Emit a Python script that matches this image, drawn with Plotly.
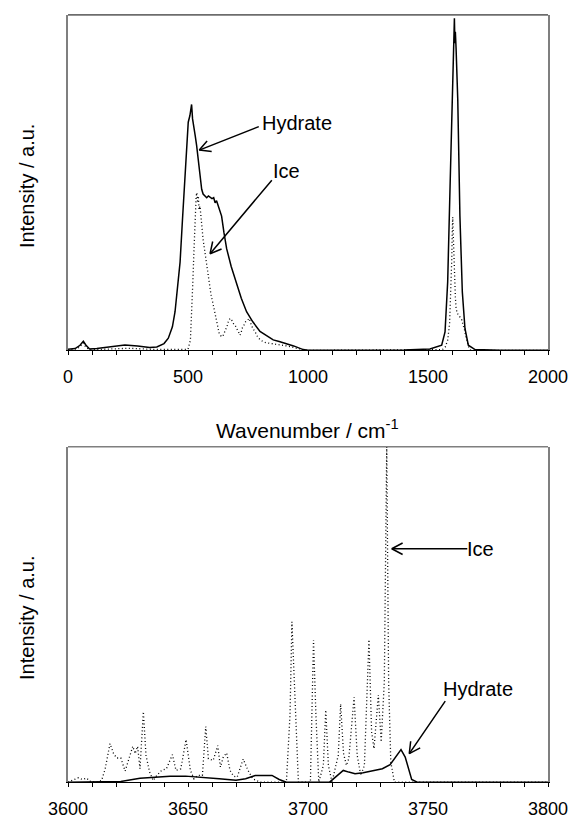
import math
import plotly.graph_objects as go
from plotly.subplots import make_subplots

# ---------------- data: top panel (0-2000 cm-1) ----------------
top_hydrate_x = [0, 30, 50, 64, 75, 90, 120, 170, 237, 290, 340, 370, 400, 418, 435, 446, 457, 467,
                 477, 487, 495, 501, 508, 512, 515, 519, 524, 530, 536, 543, 550, 557, 563, 570, 578,
                 585, 592, 600, 607, 613, 619, 627, 633, 640, 650, 661, 680, 703, 722, 744, 770, 800,
                 830, 855, 880, 911, 940, 980, 1000, 1200, 1400, 1508, 1540, 1557, 1571, 1582, 1592,
                 1603, 1607, 1610, 1612, 1614, 1617, 1624, 1633, 1643, 1654, 1668, 1696, 1800, 2000]
top_hydrate_y = [0.003, 0.005, 0.015, 0.027, 0.015, 0.004, 0.005, 0.010, 0.016, 0.013, 0.008, 0.010,
                 0.020, 0.036, 0.070, 0.115, 0.190, 0.263, 0.390, 0.510, 0.620, 0.680, 0.700, 0.715,
                 0.733, 0.690, 0.660, 0.640, 0.610, 0.560, 0.510, 0.480, 0.466, 0.460, 0.455, 0.460,
                 0.457, 0.452, 0.455, 0.440, 0.446, 0.430, 0.420, 0.400, 0.350, 0.303, 0.250, 0.194,
                 0.155, 0.115, 0.085, 0.056, 0.042, 0.031, 0.026, 0.020, 0.013, 0.002, 0.0, 0.0,
                 0.001, 0.004, 0.010, 0.015, 0.055, 0.204, 0.490, 0.847, 0.960, 0.990, 0.916, 0.950,
                 0.900, 0.748, 0.400, 0.174, 0.065, 0.015, 0.002, 0.0, 0.0]

top_ice_x = [0, 40, 55, 64, 72, 85, 150, 250, 350, 450, 500, 510, 515, 520, 525, 530, 534, 537, 540,
             543, 546, 550, 553, 556, 560, 563, 567, 571, 575, 578, 582, 587, 592, 597, 601, 605, 610,
             614, 619, 625, 630, 635, 640, 647, 654, 662, 668, 675, 682, 689, 696, 705, 712, 717, 722,
             727, 733, 740, 748, 755, 762, 770, 779, 790, 800, 814, 830, 850, 870, 883, 900, 920, 953,
             975, 994, 1100, 1500, 1560, 1572, 1582, 1590, 1595, 1599, 1601, 1603, 1605, 1607, 1609,
             1611, 1614, 1617, 1622, 1628, 1635, 1641, 1646, 1651, 1658, 1664, 1670, 1678, 2000]
top_ice_y = [0.0, 0.005, 0.015, 0.022, 0.012, 0.003, 0.003, 0.006, 0.003, 0.002, 0.003, 0.030, 0.100,
             0.200, 0.300, 0.400, 0.460, 0.470, 0.440, 0.460, 0.420, 0.430, 0.400, 0.370, 0.360, 0.330,
             0.310, 0.290, 0.260, 0.253, 0.230, 0.210, 0.175, 0.160, 0.150, 0.135, 0.120, 0.100, 0.085,
             0.070, 0.050, 0.045, 0.040, 0.045, 0.056, 0.070, 0.085, 0.095, 0.090, 0.080, 0.075, 0.060,
             0.050, 0.045, 0.055, 0.068, 0.075, 0.085, 0.090, 0.095, 0.080, 0.065, 0.056, 0.040, 0.032,
             0.025, 0.022, 0.020, 0.018, 0.016, 0.014, 0.012, 0.006, 0.003, 0.0, 0.0, 0.0, 0.002, 0.010,
             0.030, 0.080, 0.160, 0.270, 0.350, 0.397, 0.350, 0.290, 0.230, 0.200, 0.160, 0.125, 0.110,
             0.105, 0.095, 0.090, 0.075, 0.065, 0.040, 0.025, 0.010, 0.0, 0.0]

# ---------------- data: bottom panel (3600-3800 cm-1) ----------------
bot_hydrate_x = [3600, 3618, 3622, 3630, 3636, 3642.5, 3649, 3656, 3663, 3670, 3674, 3678, 3682, 3685,
                 3688, 3691, 3709, 3712, 3714.7, 3717, 3719.6, 3723, 3727, 3731, 3734.2, 3736.5,
                 3738.75, 3740.5, 3741.5, 3743.2, 3745.5, 3800]
bot_hydrate_y = [0.0, 0.0, 0.002, 0.012, 0.015, 0.018, 0.018, 0.013, 0.010, 0.006, 0.010, 0.020, 0.021,
                 0.020, 0.008, 0.0, 0.0, 0.018, 0.035, 0.030, 0.025, 0.028, 0.033, 0.040, 0.052, 0.075,
                 0.097, 0.075, 0.047, 0.008, 0.0, 0.0]

bot_ice_x = [3600, 3602, 3604.3, 3606, 3607.8, 3609, 3612, 3614, 3615.5, 3617.5, 3619, 3620.3, 3622,
             3623.8, 3625.2, 3627, 3628, 3629, 3630, 3631.4, 3632.5, 3634, 3635.5, 3637, 3639, 3641,
             3643.5, 3645, 3647, 3649.2, 3651, 3652.5, 3654, 3656, 3657.4, 3658.5, 3660.5, 3662.4,
             3663.5, 3664.7, 3666.1, 3667.5, 3669, 3670.5, 3673, 3675, 3677, 3680, 3691, 3692.5,
             3693.3, 3694.5, 3696, 3701, 3701.8, 3702.3, 3703.3, 3704.5, 3706.4, 3707.4, 3708.5, 3710,
             3712.6, 3713.6, 3714.8, 3716, 3717, 3719.2, 3720.5, 3722, 3723.5, 3725.4, 3726.5, 3727.5,
             3729.3, 3730.5, 3731.8, 3732.8, 3733.6, 3734.5, 3736, 3800]
bot_ice_y = [0.0, 0.005, 0.013, 0.008, 0.012, 0.003, 0.0, 0.005, 0.040, 0.115, 0.085, 0.072, 0.072,
             0.033, 0.067, 0.107, 0.085, 0.107, 0.040, 0.210, 0.080, 0.030, 0.005, 0.020, 0.035, 0.040,
             0.082, 0.035, 0.040, 0.127, 0.035, 0.010, 0.020, 0.020, 0.166, 0.070, 0.065, 0.109, 0.045,
             0.075, 0.087, 0.035, 0.018, 0.015, 0.069, 0.035, 0.010, 0.0, 0.0, 0.200, 0.478, 0.250,
             0.0, 0.0, 0.250, 0.424, 0.200, 0.0, 0.050, 0.215, 0.050, 0.0, 0.080, 0.233, 0.086, 0.050,
             0.070, 0.253, 0.080, 0.020, 0.050, 0.425, 0.150, 0.100, 0.260, 0.120, 0.300, 1.0, 0.300,
             0.060, 0.0, 0.0]

# tick labels
top_tickvals = [0, 500, 1000, 1500, 2000]
top_ticktext = ["0", "500", "1000", "1500", "2000"]
bot_tickvals = [3600, 3650, 3700, 3750, 3800]
bot_ticktext = ["3600", "3650", "3700", "3750", "3800"]

x_title = "Wavenumber / cm<sup>-1</sup>"
y_title = "Intensity / a.u."

FONT = "Liberation Sans, Arial, sans-serif"
W, H = 570, 819
ML, MR = 68, 22

fig = make_subplots(rows=2, cols=1, vertical_spacing=0.1)

solid = dict(color="black", width=1.5)
dotted = dict(color="black", width=1.3, dash="1px,2.5px")

fig.add_trace(go.Scatter(x=top_hydrate_x, y=top_hydrate_y, mode="lines", line=solid,
                         name="Hydrate", showlegend=False), row=1, col=1)
fig.add_trace(go.Scatter(x=top_ice_x, y=top_ice_y, mode="lines", line=dotted,
                         name="Ice", showlegend=False), row=1, col=1)
fig.add_trace(go.Scatter(x=bot_hydrate_x, y=bot_hydrate_y, mode="lines", line=solid,
                         name="Hydrate", showlegend=False), row=2, col=1)
fig.add_trace(go.Scatter(x=bot_ice_x, y=bot_ice_y, mode="lines", line=dotted,
                         name="Ice", showlegend=False), row=2, col=1)

top_dom = [1 - 352 / H, 1 - 15 / H]
bot_dom = [1 - 786 / H, 1 - 449 / H]

xcommon = dict(showgrid=False, zeroline=False, showline=True, linecolor="black", linewidth=1,
               mirror=False, ticks="outside", ticklen=4, tickcolor="black", tickwidth=1,
               tickfont=dict(family=FONT, size=18, color="black"), tickmode="array",
               ticklabelstandoff=6)
ycommon = dict(showgrid=False, zeroline=False, showline=True, linecolor="#7f7f7f", linewidth=1.5,
               mirror=True, ticks="", showticklabels=False, range=[0, 1.0], fixedrange=True)

fig.update_xaxes(range=[0, 2000], tickvals=top_tickvals, ticktext=top_ticktext,
                 minor=dict(dtick=100, ticks="outside", ticklen=4, tickcolor="black"),
                 row=1, col=1, **xcommon)
fig.update_xaxes(range=[3600, 3800], tickvals=bot_tickvals, ticktext=bot_ticktext,
                 minor=dict(dtick=10, ticks="outside", ticklen=4, tickcolor="black"),
                 row=2, col=1, **xcommon)
fig.update_yaxes(domain=top_dom, row=1, col=1, **ycommon)
fig.update_yaxes(domain=bot_dom, row=2, col=1, **ycommon)

# top frame lines
fig.add_shape(type="line", xref="x domain", yref="y domain", x0=0, x1=1, y0=1, y1=1,
              line=dict(color="black", width=1))
fig.add_shape(type="line", xref="x2 domain", yref="y2 domain", x0=0, x1=1, y0=1, y1=1,
              line=dict(color="#7f7f7f", width=1.5))

annotations = []


def open_arrow(xref, yref, x, y, ax, ay, barb=14, spread=28):
    # shaft
    annotations.append(dict(xref=xref, yref=yref, x=x, y=y, ax=ax, ay=ay, text="",
                            showarrow=True, arrowhead=0, arrowwidth=1.5, arrowcolor="black",
                            standoff=0, startstandoff=0))
    ang = math.atan2(ay, ax)
    for s in (-1, 1):
        a = ang + s * math.radians(spread)
        annotations.append(dict(xref=xref, yref=yref, x=x, y=y, ax=barb * math.cos(a),
                                ay=barb * math.sin(a), text="", showarrow=True, arrowhead=0,
                                arrowwidth=1.5, arrowcolor="black", standoff=0))


def label(xref, yref, x, y, text):
    annotations.append(dict(xref=xref, yref=yref, x=x, y=y, text=text, showarrow=False,
                            xanchor="left", yanchor="middle",
                            font=dict(family=FONT, size=20, color="black")))


# top panel annotations
open_arrow("x", "y", 547, 0.597, 61, -24)
label("x", "y", 802, 0.679, "Hydrate")
open_arrow("x", "y", 592, 0.288, 63, -75)
label("x", "y", 844, 0.535, "Ice")
# bottom panel annotations
open_arrow("x2", "y2", 3734.9, 0.696, 77, 0)
label("x2", "y2", 3765.5, 0.696, "Ice")
open_arrow("x2", "y2", 3742.2, 0.085, 37, -54)
label("x2", "y2", 3755.5, 0.277, "Hydrate")

# axis titles
pw = W - ML - MR
annotations.append(dict(xref="paper", yref="paper", x=(307 - ML) / pw, y=1 - 431 / H, text=x_title,
                        showarrow=False, xanchor="center", yanchor="middle",
                        font=dict(family=FONT, size=21, color="black")))
for cy in (187, 621):
    annotations.append(dict(xref="paper", yref="paper", x=(27 - ML) / pw, y=1 - cy / H, text=y_title,
                            showarrow=False, textangle=-90, xanchor="center", yanchor="middle",
                            font=dict(family=FONT, size=20, color="black")))

fig.update_layout(width=W, height=H, margin=dict(l=ML, r=MR, t=0, b=0),
                  paper_bgcolor="white", plot_bgcolor="white", annotations=annotations,
                  showlegend=False, font=dict(family=FONT, color="black"))

fig.write_html("out.html")
